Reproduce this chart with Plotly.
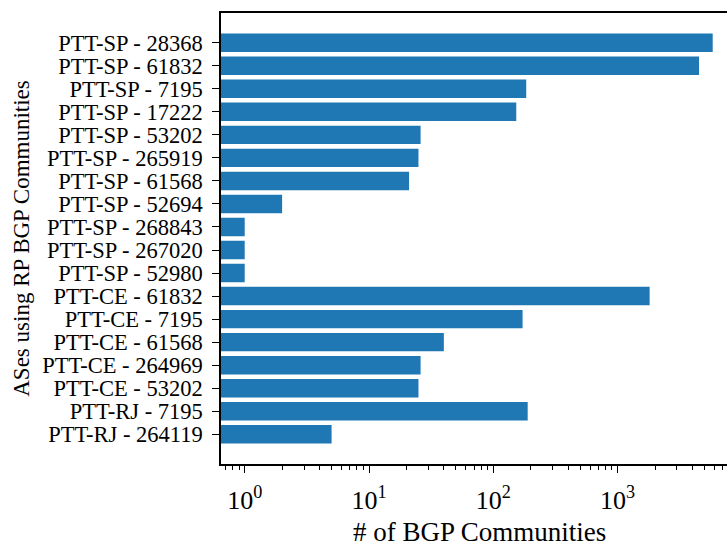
import plotly.graph_objects as go

# Number of BGP communities used per AS at each IX (PTT)
ases = [
    "PTT-SP - 28368", "PTT-SP - 61832", "PTT-SP - 7195", "PTT-SP - 17222",
    "PTT-SP - 53202", "PTT-SP - 265919", "PTT-SP - 61568", "PTT-SP - 52694",
    "PTT-SP - 268843", "PTT-SP - 267020", "PTT-SP - 52980",
    "PTT-CE - 61832", "PTT-CE - 7195", "PTT-CE - 61568", "PTT-CE - 264969",
    "PTT-CE - 53202", "PTT-RJ - 7195", "PTT-RJ - 264119",
]
communities = [
    5820, 4520, 184, 153,
    26, 25, 21, 2,
    1, 1, 1,
    1810, 172, 40, 26,
    25, 189, 5,
]

major_ticks = [1, 10, 100, 1000]
major_text = ["10<sup>0</sup>", "10<sup>1</sup>", "10<sup>2</sup>", "10<sup>3</sup>"]
minor_ticks = [m * 10 ** e for e in range(-1, 4) for m in range(2, 10)]

BLUE = "#1f77b4"
FONT = "Liberation Serif, Times New Roman, serif"

fig = go.Figure(
    go.Bar(
        x=communities,
        y=ases,
        orientation="h",
        width=0.8,
        marker=dict(color=BLUE, line=dict(width=0)),
    )
)

n = len(ases)
fig.update_layout(
    width=727,
    height=542,
    margin=dict(l=221, r=0, t=13, b=78),
    plot_bgcolor="white",
    paper_bgcolor="white",
    font=dict(family=FONT, color="black", size=22),
    showlegend=False,
    bargap=0.2,
)

fig.update_xaxes(
    type="log",
    range=[-0.1907, 3.880],
    showline=True,
    linecolor="black",
    linewidth=1.5,
    mirror=True,
    showgrid=False,
    zeroline=False,
    ticks="outside",
    ticklen=7,
    tickwidth=1.2,
    tickcolor="black",
    tickmode="array",
    tickvals=major_ticks,
    ticktext=major_text,
    tickfont=dict(size=26),
    ticklabelstandoff=5,
    minor=dict(
        tickvals=minor_ticks,
        ticks="outside",
        ticklen=4,
        tickwidth=1,
        tickcolor="black",
        showgrid=False,
    ),
    automargin=False,
)

fig.update_yaxes(
    type="category",
    categoryorder="array",
    categoryarray=ases,
    tickmode="array",
    tickvals=ases,
    ticktext=ases,
    range=[n - 1 + 1.29, -1.29],
    showline=True,
    linecolor="black",
    linewidth=1.5,
    mirror=False,
    showgrid=False,
    zeroline=False,
    ticks="outside",
    ticklen=7,
    tickwidth=1.2,
    tickcolor="black",
    tickfont=dict(size=22.5),
    ticklabelstandoff=5,
    title=dict(text="ASes using RP BGP Communities", font=dict(size=23), standoff=6),
    automargin=False,
)

# x-axis title, centred under the full axis span
fig.add_annotation(
    text="# of BGP Communities",
    xref="paper", yref="paper",
    x=0.51, y=-0.188,
    xanchor="center", yanchor="bottom",
    showarrow=False,
    font=dict(size=27),
)

fig.write_html("out.html")
